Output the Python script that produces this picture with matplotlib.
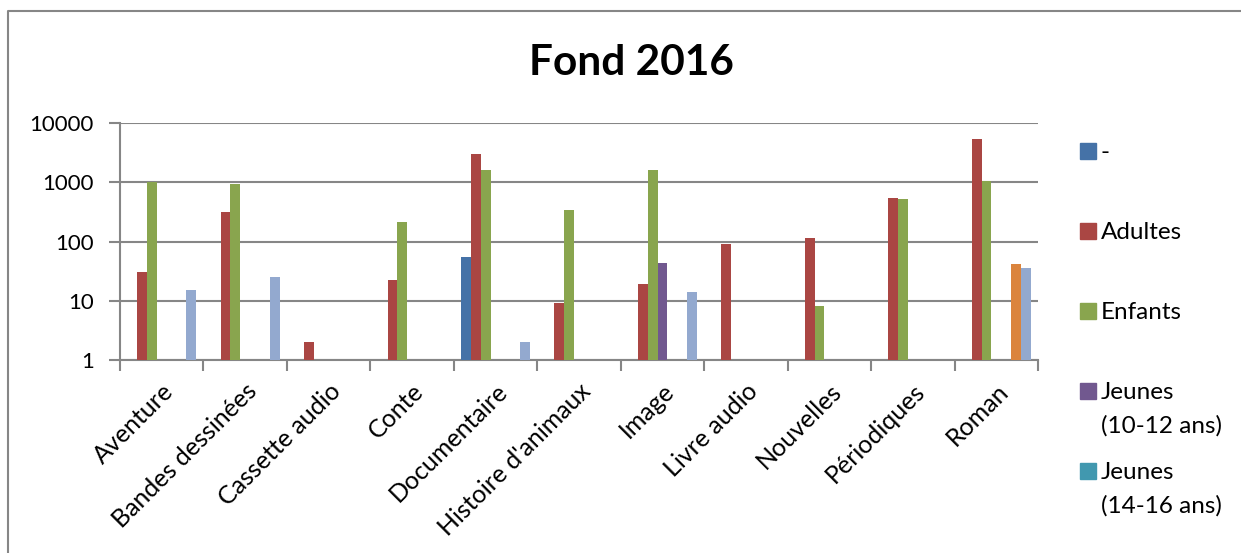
import numpy as np
import matplotlib.pyplot as plt
from matplotlib.lines import Line2D
from matplotlib.patches import Rectangle

# ----------------------------------------------------
# Data (log scale)
# ----------------------------------------------------
nan = np.nan
categories = ["Aventure", "Bandes dessinées", "Cassette audio", "Conte",
              "Documentaire", "Histoire d'animaux", "Image", "Livre audio",
              "Nouvelles", "Périodiques", "Roman"]

tiret        = [nan, nan, nan, nan, 55, nan, nan, nan, nan, nan, nan]
adultes      = [30, 310, 2, 22, 3000, 9, 19, 90, 115, 550, 5300]
enfants      = [1000, 950, nan, 210, 1600, 340, 1580, nan, 8, 530, 1050]
jeunes_10_12 = [nan, nan, nan, nan, nan, nan, 44, nan, nan, nan, nan]
jeunes_14_16 = [nan] * 11
# the last two series are cut off from the legend in the reference
serie_6      = [nan, nan, nan, nan, nan, nan, nan, nan, nan, nan, 42]
serie_7      = [15, 25, nan, nan, 2, nan, 14, nan, nan, nan, 36]

series = [tiret, adultes, enfants, jeunes_10_12, jeunes_14_16, serie_6, serie_7]
names = ["-", "Adultes", "Enfants", "Jeunes (10-12 ans)", "Jeunes (14-16 ans)",
         "Série 6", "Série 7"]
colors = ["#4572A7", "#AA4643", "#89A54E", "#71588F", "#4198AF", "#DB843D", "#93A9CF"]
n_legend = 5

yticks = [1, 10, 100, 1000, 10000]
ytick_labels = ["1", "10", "100", "1000", "10000"]

# ----------------------------------------------------
# Figure
# ----------------------------------------------------
plt.rcParams["font.family"] = ["Lato", "DejaVu Sans"]
W, H = 1241, 553
fig = plt.figure(figsize=(W / 100, H / 100), dpi=100)
ax = fig.add_axes([120 / W, 1 - 360 / H, (1038 - 120) / W, (360 - 123) / H])
ax.set_yscale("log")

grid_col = "#868686"
n = len(series)
width = 1 / (n + 1.5)
x = np.arange(len(categories))
for k, (vals, col) in enumerate(zip(series, colors)):
    offs = -0.5 + 0.75 * width + (k + 0.5) * width
    ax.bar(x + offs, vals, width=width, color=col, zorder=3, linewidth=0)

ax.set_xlim(-0.5, len(categories) - 0.5)
ax.set_ylim(1, 10000)
ax.set_yticks(yticks)
ax.set_yticklabels(ytick_labels)
ax.yaxis.set_minor_locator(plt.NullLocator())
ax.tick_params(axis="y", which="major", length=8, width=1.5, color=grid_col,
               labelsize=16, pad=11)
ax.yaxis.grid(True, color=grid_col, linewidth=1.5, zorder=0)

ax.set_xticks(x)
ax.set_xticklabels(categories, rotation=45, ha="right", rotation_mode="anchor")
ax.set_xticks(np.arange(len(categories) + 1) - 0.5, minor=True)
ax.tick_params(axis="x", which="major", length=0, labelsize=18, pad=14)
ax.tick_params(axis="x", which="minor", length=8, width=1.5, color=grid_col)

for s in ["top", "right"]:
    ax.spines[s].set_visible(False)
for s in ["left", "bottom"]:
    ax.spines[s].set_color(grid_col)
    ax.spines[s].set_linewidth(1.5)

# title
fig.text(631 / W, 1 - 63 / H, "Fond 2016", ha="center", va="center",
         fontsize=30.5, fontweight="bold")

# legend (only the first five entries are visible)
for k in range(n_legend):
    yc = 151 + 80 * k
    fig.patches.append(Rectangle((1080 / W, 1 - (yc + 8) / H), 16 / W, 16 / H,
                                 transform=fig.transFigure, color=colors[k]))
    fig.text(1101 / W, 1 - (yc - 9) / H, names[k].replace(" (", "\n("),
             ha="left", va="top", fontsize=17.5, linespacing=1.7)

# outer chart frame
fig.add_artist(Line2D([8 / W, 8 / W, 1], [0, 1 - 11 / H, 1 - 11 / H],
                      color=grid_col, linewidth=1.5, transform=fig.transFigure))

fig.savefig("out.png", dpi=100)
